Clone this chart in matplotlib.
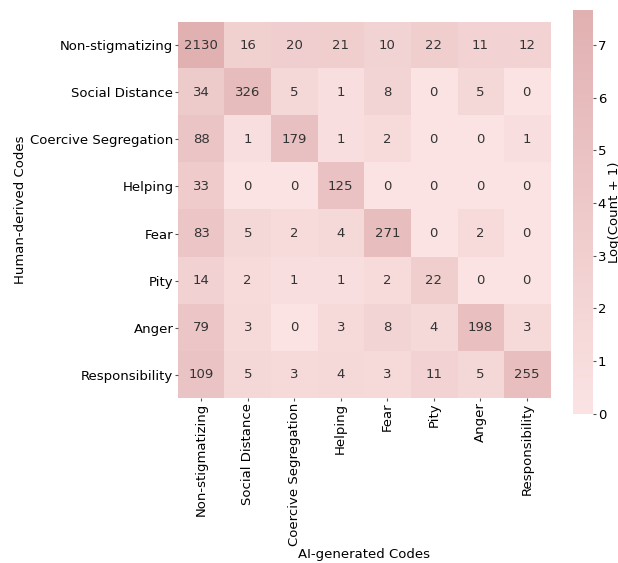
import numpy as np
import matplotlib
matplotlib.use("Agg")
import matplotlib.pyplot as plt
from matplotlib.colors import LinearSegmentedColormap

labels = ["Non-stigmatizing", "Social Distance", "Coercive Segregation", "Helping",
          "Fear", "Pity", "Anger", "Responsibility"]
counts = np.array([
    [2130, 16, 20, 21, 10, 22, 11, 12],
    [34, 326, 5, 1, 8, 0, 5, 0],
    [88, 1, 179, 1, 2, 0, 0, 1],
    [33, 0, 0, 125, 0, 0, 0, 0],
    [83, 5, 2, 4, 271, 0, 2, 0],
    [14, 2, 1, 1, 2, 22, 0, 0],
    [79, 3, 0, 3, 8, 4, 198, 3],
    [109, 5, 3, 4, 3, 11, 5, 255],
])
logc = np.log1p(counts)

cmap = LinearSegmentedColormap.from_list("pinks", ["#fbe3e3", "#e1b0b1"])
FS = 9.5

fig = plt.figure(figsize=(6.18, 5.63), dpi=100)
ax = fig.add_axes([0.288, 0.293, 0.602, 0.668])
cax = fig.add_axes([0.927, 0.265, 0.033, 0.717])

n = len(labels)
im = ax.imshow(logc, cmap=cmap, vmin=0, vmax=logc.max(), aspect="auto")
for i in range(n):
    for j in range(n):
        ax.text(j, i, str(counts[i, j]), ha="center", va="center", fontsize=FS, color="#333333")
ax.set_xticks(range(n))
ax.set_xticklabels(labels, rotation=90, fontsize=FS)
ax.set_yticks(range(n))
ax.set_yticklabels(labels, fontsize=FS)
ax.tick_params(length=2.5, pad=0.8, color="#555555")
for s in ax.spines.values():
    s.set_visible(False)
ax.set_xlabel("AI-generated Codes", fontsize=FS, labelpad=1.5)
ax.set_ylabel("Human-derived Codes", fontsize=FS, labelpad=2)

cb = fig.colorbar(im, cax=cax)
cb.outline.set_visible(False)
cb.ax.tick_params(labelsize=FS, length=2.5, pad=0.8, color="#555555")
cb.set_label("Log(Count + 1)", fontsize=FS, labelpad=1)

fig.savefig("out.png", dpi=100)
